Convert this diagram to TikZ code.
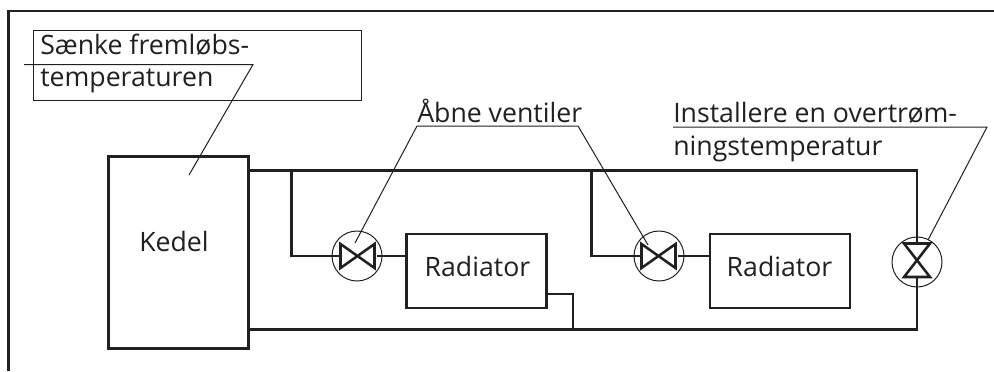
\documentclass[tikz,border=0pt]{standalone}
\usepackage{fontspec}
\setmainfont{Open Sans}
\usetikzlibrary{positioning,calc}
\definecolor{inkgray}{HTML}{231F20}
\tikzset{
  boxpart/.style={draw=inkgray,line width=1.7pt,inner sep=0pt},
  pipe/.style={draw=inkgray,line width=1.9pt},
  thin line/.style={draw=inkgray,line width=0.75pt},
  vcirc/.style={circle,draw=inkgray,line width=0.75pt,fill=white,inner sep=0pt,minimum size=37.5pt},
  lbl/.style={inner sep=0pt,anchor=base west,font=\fontsize{20}{24}\selectfont,text=inkgray},
}
\begin{document}
\begin{tikzpicture}[x=0.75pt,y=-0.75pt]
  \useasboundingbox (0,0) rectangle (994,371);
  % ramme
  \draw[pipe] (8.5,371) -- (8.5,11) -- (994,11);
  % tekstboks
  \node[thin line,draw,minimum width=245.5pt,minimum height=52pt,inner sep=0pt] (note) at (197.5,65.5) {};
  \node[lbl] (t1) at (40,54) {Sænke fremløbs-};
  \node[lbl] (t2) at (40,86) {temperaturen};
  % kedel og radiatorer
  \node[boxpart,minimum width=105pt,minimum height=144pt] (kedel) at (178.5,252.5) {};
  \node[lbl,anchor=base] (kedeltxt) at (174,251) {Kedel};
  \node[boxpart,minimum width=105pt,minimum height=56pt] (rad1) at (476.5,271) {};
  \node[lbl,anchor=base] (rad1txt) at (477.5,276) {Radiator};
  \node[boxpart,minimum width=105pt,minimum height=56pt] (rad2) at (780,271) {};
  \node[lbl,anchor=base] (rad2txt) at (779.5,276) {Radiator};
  % rør
  \coordinate (topend) at (917,170.4);
  \coordinate (botend) at (917,329.4);
  \draw[pipe] (kedel.east |- topend) -- (topend) -- (botend) -- (kedel.east |- botend);
  \draw[pipe] (291.5,170) |- (340.5,256);
  \draw[pipe] (591.5,170) |- (641.5,256);
  \draw[pipe] (rad1.east |- 0,294) -| (573,329);
  % ventiler
  \node[vcirc] (v1) at (357,256) {};
  \node[vcirc] (v2) at (659,256) {};
  \node[vcirc] (v3) at (917,262) {};
  \draw[pipe] (340.5,256) -- (340.5,244) -- (374.5,268) -- (374.5,244) -- (340.5,268) -- cycle;
  \draw[pipe] (641.5,256) -- (641.5,244) -- (675.5,268) -- (675.5,244) -- (641.5,268) -- cycle;
  \draw[pipe] (904,243.5) -- (930,243.5) -- (904,277) -- (930,277) -- cycle;
  \draw[pipe] (291.5,256) -- (340.5,256) (377,256) -- (rad1.west |- 0,256);
  \draw[pipe] (591.5,256) -- (641.5,256) (678,256) -- (rad2.west |- 0,256);
  \draw[pipe] (917,170) -- (917,243.5) (917,277) -- (917,329);
  % henvisninger
  \draw[thin line] (24,64.5) -- (253,64.5) -- (189,175);
  \node[lbl] (t3) at (417,122) {Åbne ventiler};
  \node[lbl] (t4) at (673,122) {Installere en overtrøm-};
  \node[lbl] (t5) at (673,155) {ningstemperatur};
  \coordinate (tip1) at (355,243);
  \coordinate (tip2) at (648,245);
  \coordinate (tip3) at (928,240);
  \draw[thin line] (tip1) -- (417,126) -- (578,126) -- (tip2);
  \draw[thin line] (673,127) -- (987,127) -- (tip3);
\end{tikzpicture}
\end{document}
